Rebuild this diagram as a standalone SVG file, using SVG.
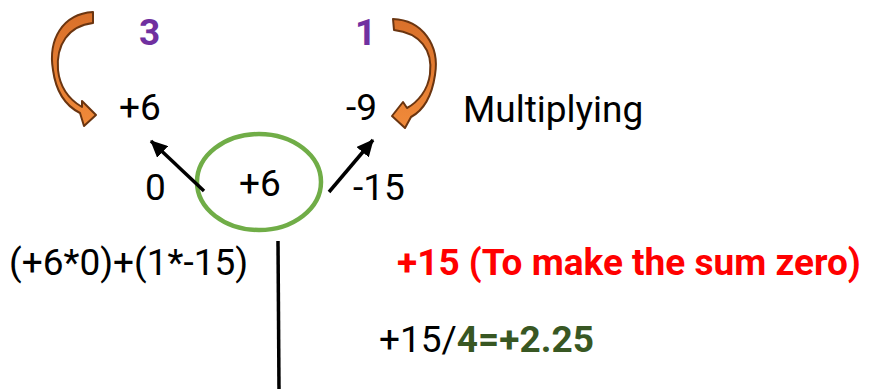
<svg xmlns="http://www.w3.org/2000/svg" width="872" height="389" viewBox="0 0 872 389">
<style>
text{font-family:Roboto,"Liberation Sans",sans-serif;font-size:37px;fill:#000}
.pur{fill:#7030a0;font-weight:bold}
.red{fill:#ff0000;font-weight:bold}
.grn{fill:#385723;font-weight:bold}
.conn{stroke:#000;stroke-width:3.5;fill:none}
.curl{fill:url(#og);stroke:#6b3510;stroke-width:2;stroke-linejoin:round}
</style>
<defs>
<marker id="ah" markerUnits="userSpaceOnUse" markerWidth="18" markerHeight="16" refX="16" refY="8" orient="auto">
<path d="M0,0 L17,8 L0,16 Z" fill="#000"/>
</marker>
<linearGradient id="og" x1="0" y1="0" x2="0" y2="1">
<stop offset="0" stop-color="#d9702a"/>
<stop offset="1" stop-color="#f08a3a"/>
</linearGradient>
</defs>
<g id="count3"><text class="pur" x="139" y="45">3</text></g>
<g id="count1"><text class="pur" x="355" y="45">1</text></g>
<g id="curlLeft"><path class="curl" d="M93,12 C62,14 48,40 53,70 C56,92 66,106 80,113 L84,126 L96,115 L82,101 L82,107 C70,100 60,88 58,70 C56,45 68,26 93,23 Z"/></g>
<g id="curlRight"><path class="curl" d="M393,19 C422,20 440,45 435,75 C432,95 424,110 411,117 L405,128 L392,116 L403,102 L407,108 C418,102 428,90 430,74 C433,50 420,33 394,30 Z"/></g>
<g id="valLeft"><text x="119" y="120">+6</text></g>
<g id="valRight"><text x="346" y="120">-9</text></g>
<g id="mult"><text x="463" y="122">Multiplying</text></g>
<g id="center"><ellipse cx="259" cy="182" rx="62" ry="48" fill="none" stroke="#70ad47" stroke-width="4.5"/><text x="239" y="196">+6</text></g>
<g id="zero"><text x="145" y="200">0</text></g>
<g id="m15"><text x="353" y="200">-15</text></g>
<g id="expr"><text x="9" y="275">(+6*0)+(1*-15)</text></g>
<g id="note"><text class="red" x="397" y="275">+15 (To make the sum zero)</text></g>
<g id="div"><text x="379" y="352">+15/<tspan class="grn">4=+2.25</tspan></text></g>
<g id="connectors">
<line class="conn" x1="204" y1="191" x2="151" y2="141" marker-end="url(#ah)"/>
<line class="conn" x1="329" y1="192" x2="373" y2="140" marker-end="url(#ah)"/>
<line class="conn" x1="278" y1="241" x2="279" y2="389"/>
</g>
</svg>
